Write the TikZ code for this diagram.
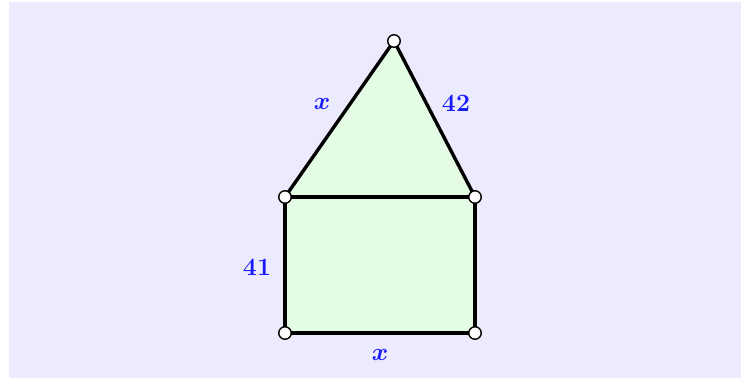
\documentclass[tikz,border=0pt]{standalone}
\usepackage{bm}
\definecolor{bgcol}{RGB}{236,234,253}
\definecolor{fillcol}{RGB}{228,251,228}
\definecolor{labcol}{RGB}{25,25,255}
\begin{document}
\begin{tikzpicture}[x=1pt,y=-1pt,
  vertex/.style={circle,draw=black,fill=white,line width=1.4pt,inner sep=0pt,minimum size=12.5pt},
  edge/.style={line width=3.4pt,line cap=round,line join=round},
  lab/.style={text=labcol,font=\fontsize{24.88}{29}\selectfont\bfseries,inner sep=0pt}]
\useasboundingbox (0,0) rectangle (742,378);
\fill[bgcol] (9,2) rectangle (741,378);
\coordinate (T) at (394,41);
\coordinate (L) at (285,197);
\coordinate (R) at (475,197);
\coordinate (BL) at (285,333);
\coordinate (BR) at (475,333);
\fill[fillcol] (T) -- (R) -- (BR) -- (BL) -- (L) -- cycle;
\draw[edge] (L) -- (T) -- (R);
\draw[edge] (L) -- (R);
\draw[edge] (L) -- (BL) -- (BR) -- (R);
\node[vertex] (vT) at (T) {};
\node[vertex] (vL) at (L) {};
\node[vertex] (vR) at (R) {};
\node[vertex] (vBL) at (BL) {};
\node[vertex] (vBR) at (BR) {};
\node[lab] (lx1) at (322,104) {$\bm{x}$};
\node[lab] (l42) at (456,103) {42};
\node[lab] (l41) at (257,267) {41};
\node[lab] (lx2) at (380,355) {$\bm{x}$};
\end{tikzpicture}
\end{document}
